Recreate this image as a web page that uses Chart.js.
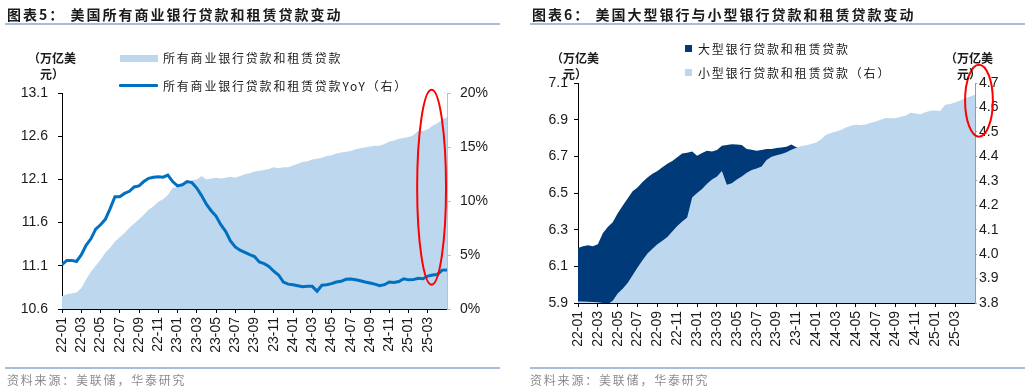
<!DOCTYPE html>
<html>
<head>
<meta charset="utf-8">
<script src="https://cdn.jsdelivr.net/npm/chart.js@4.4.1/dist/chart.umd.min.js"></script>
<style>
  body { margin: 0; background: #fff; }
  #wrap { position: relative; width: 1030px; height: 392px; overflow: hidden; font-family: "Noto Sans CJK SC", sans-serif; color: #1a1a1a; }
  canvas { position: absolute; top: 0; }
  .title { position: absolute; top: 4px; font-size: 14px; font-weight: bold; letter-spacing: 2px; line-height: 20px; white-space: nowrap; }
  .rule { position: absolute; height: 2px; background: #a9bcd8; }
  .source { position: absolute; top: 372px; font-size: 12px; color: #8c8c8c; letter-spacing: 1.8px; line-height: 16px; white-space: nowrap; }
  .unit { position: absolute; top: 50px; width: 60px; font-size: 12px; font-weight: bold; text-align: center; line-height: 16px; }
  .leg { position: absolute; font-size: 12px; letter-spacing: 1.8px; line-height: 16px; white-space: nowrap; }
  .sw { position: absolute; }
</style>
</head>
<body>
<div id="wrap">
  <canvas id="c5" width="515" height="392" style="left:0"></canvas>
  <canvas id="c6" width="515" height="392" style="left:515px"></canvas>

  <div class="title" style="left:7px">图表5：&nbsp;美国所有商业银行贷款和租赁贷款变动</div>
  <div class="rule" style="left:5px; top:23px; width:495px"></div>
  <div class="unit" style="left:22px">（万亿美<br>元）</div>
  <div class="sw" style="left:120px; top:55px; width:38px; height:7px; background:#BDD7EE"></div>
  <div class="leg" style="left:163px; top:50px">所有商业银行贷款和租赁贷款</div>
  <div class="sw" style="left:119px; top:84px; width:39px; height:3px; background:#0070C0; border-radius:1px"></div>
  <div class="leg" style="left:163px; top:78px">所有商业银行贷款和租赁贷款YoY（右）</div>
  <div class="rule" style="left:5px; top:367px; width:495px"></div>
  <div class="source" style="left:7px">资料来源：美联储，华泰研究</div>

  <div class="title" style="left:532px">图表6：&nbsp;美国大型银行与小型银行贷款和租赁贷款变动</div>
  <div class="rule" style="left:530px; top:23px; width:495px"></div>
  <div class="unit" style="left:545px">（万亿美<br>元）</div>
  <div class="unit" style="left:939px">（万亿美<br>元）</div>
  <div class="sw" style="left:685px; top:45px; width:7px; height:7px; background:#003A78"></div>
  <div class="leg" style="left:698px; top:41px">大型银行贷款和租赁贷款</div>
  <div class="sw" style="left:685px; top:69px; width:7px; height:7px; background:#BDD7EE"></div>
  <div class="leg" style="left:698px; top:65px">小型银行贷款和租赁贷款（右）</div>
  <div class="rule" style="left:530px; top:367px; width:495px"></div>
  <div class="source" style="left:530px">资料来源：美联储，华泰研究</div>
</div>

<script>
// semi-monthly observations, 2022-01 .. 2025-04 (half-month steps)
const xLabels = ['22-01','22-03','22-05','22-07','22-09','22-11','23-01','23-03','23-05','23-07',
                 '23-09','23-11','24-01','24-03','24-05','24-07','24-09','24-11','25-01','25-03'];

// chart 5: all commercial banks (trillion USD) and YoY (%)
const loansTotal = [10.75,10.77,10.78,10.79,10.84,10.94,11.03,11.10,11.17,11.25,
                    11.31,11.38,11.43,11.48,11.54,11.59,11.64,11.69,11.75,11.79,
                    11.84,11.87,11.92,12.00,12.01,12.04,12.07,12.09,12.10,12.14,
                    12.10,12.11,12.12,12.11,12.12,12.13,12.12,12.14,12.16,12.17,
                    12.19,12.20,12.21,12.22,12.24,12.23,12.24,12.24,12.26,12.28,
                    12.30,12.31,12.33,12.34,12.35,12.37,12.38,12.40,12.41,12.42,
                    12.43,12.45,12.46,12.47,12.48,12.49,12.49,12.51,12.54,12.55,
                    12.57,12.58,12.59,12.61,12.66,12.66,12.68,12.72,12.75,12.79,
                    12.82];
const loansYoY = [4.1,4.5,4.5,4.4,5.0,5.9,6.5,7.4,7.8,8.3,
                  9.3,10.4,10.4,10.7,10.9,11.3,11.4,11.8,12.1,12.2,
                  12.25,12.2,12.4,11.8,11.4,11.5,11.8,11.7,11.2,10.5,
                  9.7,9.1,8.6,7.8,7.2,6.3,5.75,5.45,5.25,5.03,
                  4.85,4.35,4.2,3.95,3.5,3.15,2.5,2.3,2.25,2.15,
                  2.06,2.1,2.1,1.65,2.2,2.25,2.35,2.5,2.56,2.75,
                  2.78,2.7,2.62,2.5,2.4,2.3,2.15,2.25,2.5,2.45,
                  2.55,2.8,2.7,2.72,2.85,2.8,3.05,3.15,3.2,3.6,
                  3.62];
const totalTicks = [10.6, 11.1, 11.6, 12.1, 12.6, 13.1];
const yoyTicks = [0, 5, 10, 15, 20];

// chart 6: large banks (left axis) and small banks (right axis), trillion USD
const largeBanks = [6.200,6.210,6.215,6.210,6.220,6.280,6.315,6.340,6.390,6.430,
                    6.470,6.510,6.530,6.560,6.585,6.605,6.620,6.640,6.660,6.675,
                    6.695,6.715,6.720,6.727,6.703,6.718,6.730,6.727,6.735,6.758,
                    6.762,6.766,6.765,6.762,6.740,6.736,6.730,6.735,6.740,6.740,
                    6.745,6.748,6.752,6.765,6.750,6.744,6.747,6.742,6.750,6.753,
                    6.756,6.762,6.758,6.766,6.770,6.764,6.772,6.779,6.775,6.781,
                    6.788,6.784,6.779,6.786,6.793,6.790,6.786,6.797,6.802,6.796,
                    6.801,6.808,6.812,6.806,6.815,6.821,6.818,6.826,6.831,6.829,
                    6.834];
const smallBanks = [3.806,3.806,3.805,3.804,3.803,3.800,3.795,3.809,3.839,3.858,
                    3.882,3.914,3.945,3.975,4.002,4.022,4.040,4.055,4.070,4.093,
                    4.115,4.133,4.150,4.232,4.250,4.266,4.288,4.305,4.318,4.340,
                    4.284,4.290,4.305,4.318,4.333,4.344,4.350,4.358,4.385,4.398,
                    4.404,4.410,4.417,4.427,4.435,4.442,4.445,4.450,4.457,4.470,
                    4.488,4.495,4.502,4.508,4.518,4.525,4.529,4.528,4.530,4.537,
                    4.543,4.550,4.557,4.556,4.557,4.562,4.566,4.578,4.575,4.572,
                    4.580,4.586,4.588,4.585,4.611,4.614,4.620,4.628,4.638,4.645,
                    4.652];
const largeTicks = [5.9, 6.1, 6.3, 6.5, 6.7, 6.9, 7.1];
const smallTicks = [3.8, 3.9, 4.0, 4.1, 4.2, 4.3, 4.4, 4.5, 4.6, 4.7];

Chart.defaults.font.family = '"Liberation Sans", Arial, sans-serif';
Chart.defaults.font.size = 14;
Chart.defaults.color = '#1a1a1a';

// index -> month offset (two observations per month)
const toPts = arr => arr.map((v, i) => ({ x: i / 2, y: v }));

// red ellipse drawn in data coordinates
const ringPlugin = {
  id: 'ring',
  afterDraw(chart, args, o) {
    const ctx = chart.ctx;
    const xs = chart.scales.x, ys = chart.scales[o.axis];
    const cx = xs.getPixelForValue(o.x);
    const rx = xs.getPixelForValue(o.x + o.dx) - cx;
    const top = ys.getPixelForValue(o.top), bot = ys.getPixelForValue(o.bottom);
    ctx.save();
    ctx.beginPath();
    ctx.ellipse(cx, (top + bot) / 2, rx, (bot - top) / 2, 0, 0, Math.PI * 2);
    ctx.strokeStyle = '#ff0000';
    ctx.lineWidth = 2;
    ctx.stroke();
    ctx.restore();
  }
};

function xAxis(h) {
  return {
    type: 'linear', min: 0, max: 40,
    afterBuildTicks: s => { s.ticks = xLabels.map((l, i) => ({ value: i * 2 })); },
    afterFit: s => { s.height = h; },
    ticks: { autoSkip: false, minRotation: 90, maxRotation: 90, padding: 4, callback: (v, i) => xLabels[i] },
    grid: { drawOnChartArea: false, tickLength: 4, color: '#000' },
    border: { color: '#000' }
  };
}

function yAxis(pos, vals, lo, hi, w, fmt, col, tick, pad) {
  return {
    type: 'linear', position: pos, min: lo, max: hi,
    afterBuildTicks: s => { s.ticks = vals.map(v => ({ value: v })); },
    afterFit: s => { s.width = w; },
    ticks: { padding: pad, callback: fmt },
    grid: { drawOnChartArea: false, tickLength: tick, color: col },
    border: { color: col }
  };
}

new Chart(document.getElementById('c5'), {
  type: 'line',
  data: {
    datasets: [
      { label: '所有商业银行贷款和租赁贷款YoY（右）', data: toPts(loansYoY), yAxisID: 'y1',
        borderColor: '#0070C0', borderWidth: 3, pointRadius: 0, fill: false, order: 0 },
      { label: '所有商业银行贷款和租赁贷款', data: toPts(loansTotal), yAxisID: 'y',
        borderColor: 'rgba(0,0,0,0)', borderWidth: 0, backgroundColor: '#BDD7EE', fill: 'start', pointRadius: 0, order: 1 }
    ]
  },
  options: {
    responsive: false,
    animation: false,
    layout: { padding: { top: 93, left: 0, right: 0, bottom: 0 } },
    plugins: {
      legend: { display: false },
      tooltip: { enabled: false },
      ring: { axis: 'y1', x: 38.4, dx: 1.5, top: 20.3, bottom: 2.25 }
    },
    scales: {
      x: xAxis(83),
      y: yAxis('left', totalTicks, 10.6, 13.1, 62, v => v.toFixed(1), '#000', 4, 10),
      y1: yAxis('right', yoyTicks, 0, 20, 68, v => v + '%', '#bfbfbf', 4, 9)
    }
  },
  plugins: [ringPlugin]
});

new Chart(document.getElementById('c6'), {
  type: 'line',
  data: {
    datasets: [
      { label: '小型银行贷款和租赁贷款（右）', data: toPts(smallBanks), yAxisID: 'y1',
        borderColor: 'rgba(0,0,0,0)', borderWidth: 0, backgroundColor: '#BDD7EE', fill: 'start', pointRadius: 0, order: 0 },
      { label: '大型银行贷款和租赁贷款', data: toPts(largeBanks), yAxisID: 'y',
        borderColor: 'rgba(0,0,0,0)', borderWidth: 0, backgroundColor: '#003A78', fill: 'start', pointRadius: 0, order: 1 }
    ]
  },
  options: {
    responsive: false,
    animation: false,
    layout: { padding: { top: 83, left: 0, right: 0, bottom: 0 } },
    plugins: {
      legend: { display: false },
      tooltip: { enabled: false },
      ring: { axis: 'y1', x: 40.4, dx: 1.4, top: 4.775, bottom: 4.48 }
    },
    scales: {
      x: xAxis(89),
      y: yAxis('left', largeTicks, 5.9, 7.1, 63, v => v.toFixed(1), '#000', 4, 6),
      y1: yAxis('right', smallTicks, 3.8, 4.7, 55, v => v.toFixed(1), '#9a9a9a', 2, 2)
    }
  },
  plugins: [ringPlugin]
});
</script>
</body>
</html>
